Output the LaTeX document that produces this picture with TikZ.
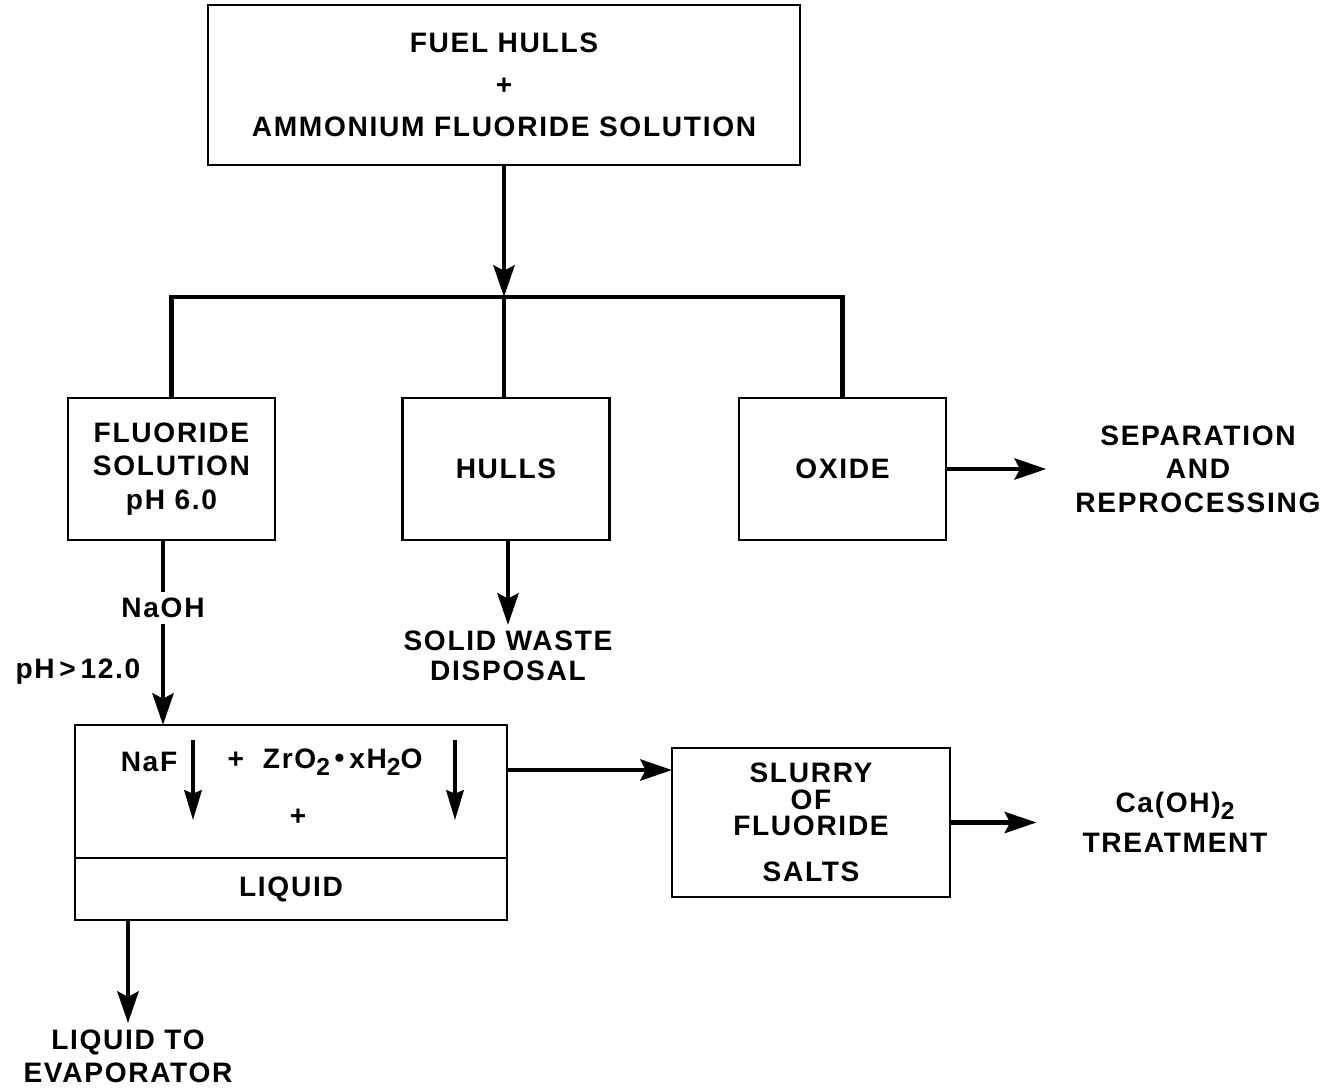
\documentclass[tikz,border=0pt]{standalone}
\usepackage{fontspec}
\setmainfont{Liberation Sans}[LetterSpace=6]
\usetikzlibrary{arrows.meta,positioning,calc}
\newcommand\chsub[1]{\raisebox{-0.45ex}{\fontsize{14}{14}\selectfont #1}}
\tikzset{
  blk/.style={draw,rectangle,line width=1.6pt,align=center,outer sep=0pt},
  fluorblk/.style={blk,minimum width=4.14cm,minimum height=2.84cm},
  lbl/.style={align=center},
  ln/.style={line width=2.6pt},
  arr/.style={-{Stealth[length=18pt,width=12pt,inset=3pt]},line width=2.6pt},
  sarr/.style={-{Stealth[length=17pt,width=10pt,inset=2pt]},line width=1.8pt}
}
\begin{document}
\begin{tikzpicture}[font=\fontsize{16}{19}\selectfont\bfseries]
  \useasboundingbox (0,0) rectangle (26.56,-21.78);
  \node[blk,minimum width=11.84cm,minimum height=3.2cm] (feed) at (10.08,-1.7)
    {FUEL HULLS\\[5pt]+\\[5pt]AMMONIUM FLUORIDE SOLUTION};
  \coordinate (split) at (10.08,-5.94);
  \node[fluorblk] (fluor) at (3.43,-9.38) {FLUORIDE\\SOLUTION\\pH 6.0};
  \node[fluorblk] (hulls) at (10.12,-9.38) {HULLS};
  \node[fluorblk] (oxide) at (16.85,-9.38) {OXIDE};
  \node[lbl] (sep) at (23.96,-9.38) {SEPARATION\\AND\\REPROCESSING};
  \node[lbl] (waste) at (10.16,-13.12) {SOLID WASTE\\[-2pt]DISPOSAL};
  \node[lbl] (naoh) at (3.26,-12.16) {NaOH};
  \node[lbl] (ph) at (1.56,-13.44) {pH\,>\,12.0};
  \node[blk,minimum width=8.64cm,minimum height=2.66cm] (liqtop) at (5.82,-15.83) {};
  \node[blk,minimum width=8.64cm,minimum height=1.24cm,below=0pt of liqtop] (liqbot) {LIQUID};
  \node[lbl] (naf) at (2.98,-15.24) {NaF};
  \node[lbl] (zro) at (6.5,-15.24) {+\ \ ZrO\chsub{2}\,\raisebox{0.1ex}{\textbullet}\,xH\chsub{2}O};
  \node[lbl] (plus) at (5.96,-16.34) {+};
  \coordinate (ppt1) at (3.86,-14.8);
  \coordinate (ppt2) at (9.1,-14.8);
  \node[lbl] (evap) at (2.56,-21.12) {LIQUID TO\\EVAPORATOR};
  \node[blk,minimum width=5.56cm,minimum height=2.98cm] (slurry) at (16.22,-16.45)
    {SLURRY\\[-4pt]OF\\[-4pt]FLUORIDE\\[7pt]SALTS};
  \node[lbl] (treat) at (23.5,-16.45) {Ca(OH)\chsub{2}\\[4pt]TREATMENT};

  \draw[arr] (feed.south -| split) -- (split);
  \draw[ln] (fluor.north) |- (split) -| (oxide.north);
  \draw[ln] (split) -- (hulls.north -| split);
  \draw[arr,shorten >=0.46cm] (oxide) -- (sep);
  \draw[arr] (hulls.south -| waste) -- (waste);
  \draw[ln] (fluor.south -| naoh) -- (naoh);
  \draw[arr] (naoh) -- (naoh |- liqtop.north);
  \draw[sarr] (ppt1) -- ++(0,-1.6);
  \draw[sarr] (ppt2) -- ++(0,-1.6);
  \draw[arr] ([yshift=1.05cm]slurry.west -| liqtop.east) -- ([yshift=1.05cm]slurry.west);
  \draw[arr] (liqbot.south -| evap) -- (evap);
  \draw[arr,shorten >=0.8cm] (slurry) -- (treat);
\end{tikzpicture}
\end{document}
